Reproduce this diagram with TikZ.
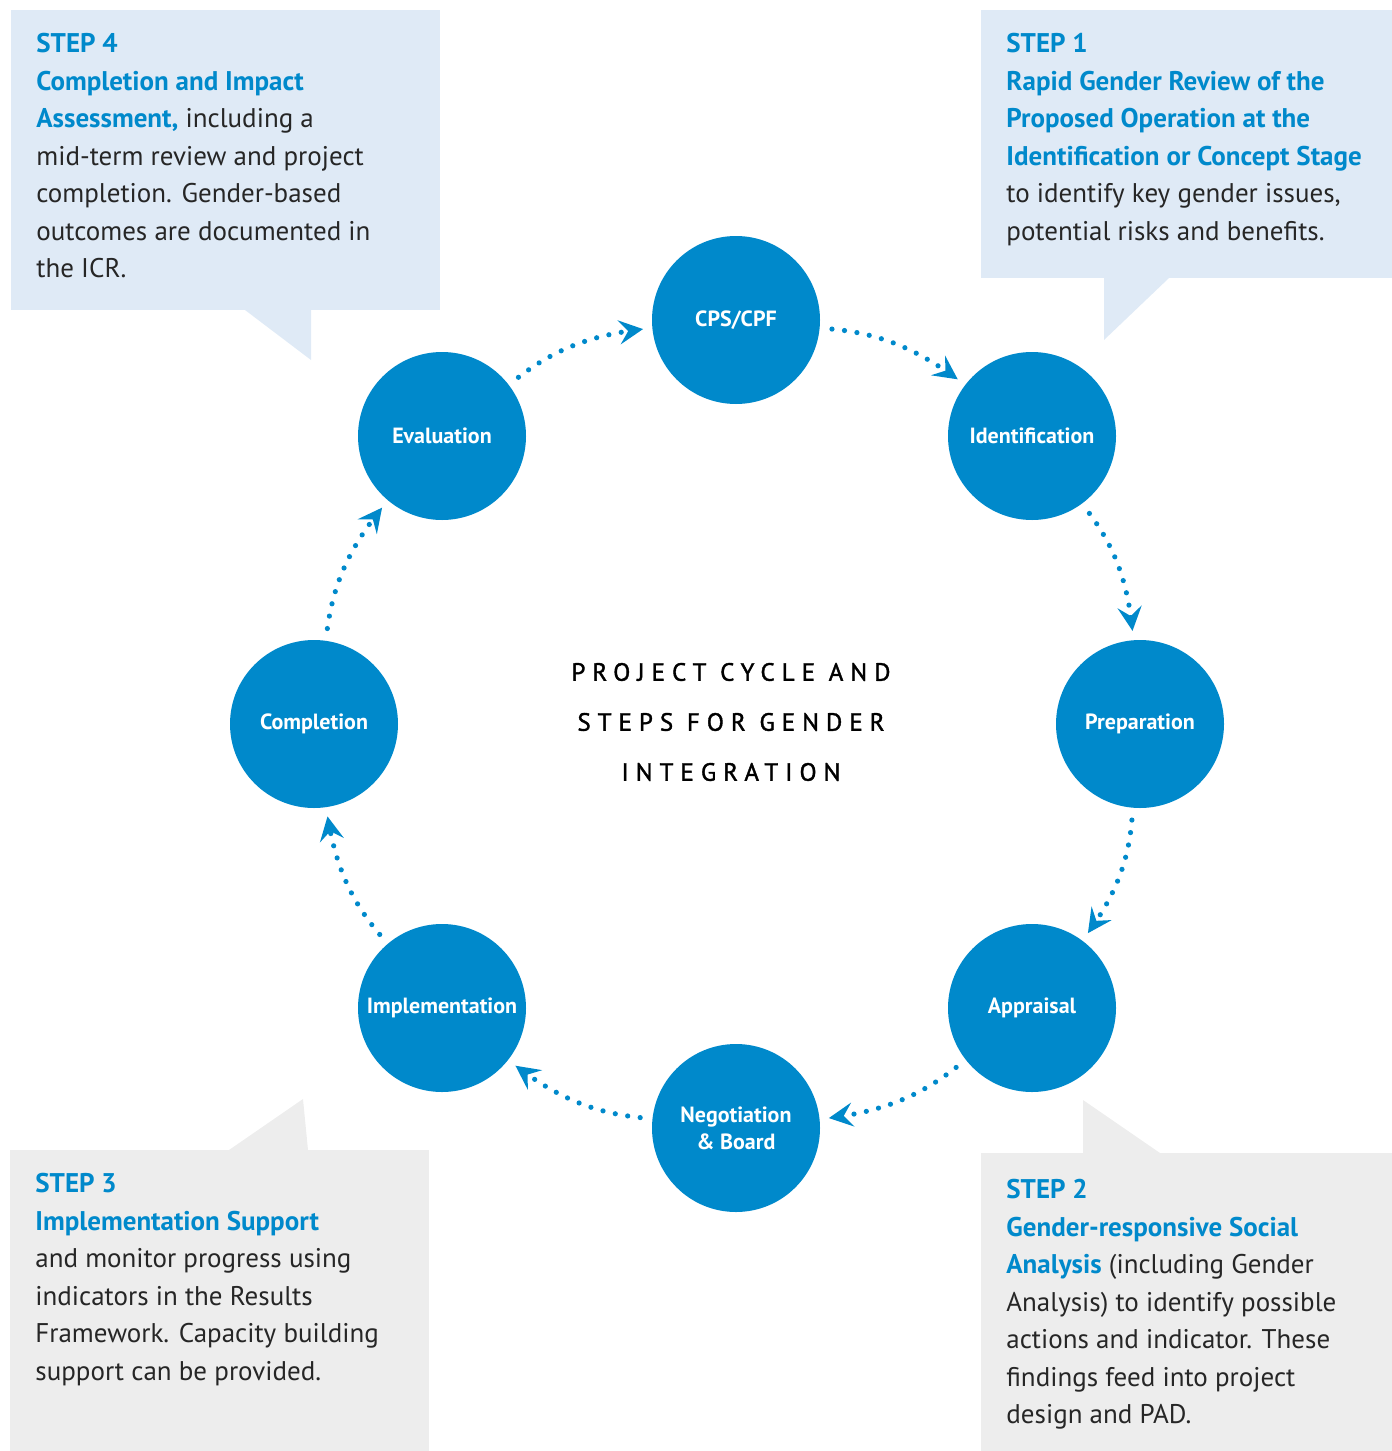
\documentclass[tikz,border=0pt]{standalone}
\usepackage{fontspec}
\setmainfont{PT Sans}
\newfontfamily\titlefont[LetterSpace=28,FakeBold=1.5]{PT Sans}
\usetikzlibrary{arrows.meta,bending}
\definecolor{wbblue}{RGB}{0,137,203}
\definecolor{boxblue}{RGB}{223,234,246}
\definecolor{boxgray}{RGB}{237,237,237}
\newcommand{\stephead}[1]{\textcolor{wbblue}{\bfseries #1}}
\begin{document}
\begin{tikzpicture}[x=0.5pt,y=-0.5pt,
		stage/.style={circle,fill=wbblue,minimum size=84pt,inner sep=0pt,
			text=white,align=center,font=\bfseries\fontsize{11}{13.5}\selectfont},
		flow/.style={wbblue,line width=2.6pt,line cap=round,
			dash pattern=on 0pt off 6.3pt,shorten <=6pt,shorten >=4.5pt,
			-{Stealth[length=12pt,width=12pt,inset=4.5pt,flex]}},
		steptext/.style={anchor=north west,inner sep=0pt,align=left,
			text=black!85,font=\fontsize{13.5}{18.75}\selectfont}]
		\useasboundingbox (0,0) rectangle (1392,1451);
		
		% callout boxes
		\fill[boxblue] (11,10) rectangle (440,310);
		\fill[boxblue] (245,310) -- (311,360) -- (311,310) -- cycle;
		\fill[boxblue] (981,10) rectangle (1392,278);
		\fill[boxblue] (1104,278) -- (1104,340) -- (1169,278) -- cycle;
		\fill[boxgray] (10,1150) rectangle (429,1451);
		\fill[boxgray] (229,1150) -- (303,1099) -- (308,1150) -- cycle;
		\fill[boxgray] (981,1153) rectangle (1392,1451);
		\fill[boxgray] (1083,1153) -- (1083,1100) -- (1160,1153) -- cycle;
		
		\node[steptext] (step4) at (36,33) {\stephead{STEP 4}\\
			\stephead{Completion and Impact}\\
			\stephead{Assessment,} including a\\
			mid-term review and project\\
			completion. Gender-based\\
			outcomes are documented in\\
			the ICR.};
		\node[steptext] (step1) at (1006,33) {\stephead{STEP 1}\\
			\stephead{Rapid Gender Review of the}\\
			\stephead{Proposed Operation at the}\\
			\stephead{Identification or Concept Stage}\\
			to identify key gender issues,\\
			potential risks and benefits.};
		\node[steptext] (step3) at (35,1173) {\stephead{STEP 3}\\
			\stephead{Implementation Support}\\
			and monitor progress using\\
			indicators in the Results\\
			Framework. Capacity building\\
			support can be provided.};
		\node[steptext] (step2) at (1006,1179) {\stephead{STEP 2}\\
			\stephead{Gender-responsive Social}\\
			\stephead{Analysis} (including Gender\\
			Analysis) to identify possible\\
			actions and indicator. These\\
			findings feed into project\\
			design and PAD.};
		
		% project cycle
		\node[stage] (cps) at (736,320) {CPS/CPF};
		\node[stage] (ident) at (1032,436) {Identification};
		\node[stage] (prep) at (1140,724) {Preparation};
		\node[stage] (appr) at (1032,1008) {Appraisal};
		\node[stage] (nego) at (736,1128) {Negotiation\\\& Board};
		\node[stage] (impl) at (442,1008) {Implementation};
		\node[stage] (compl) at (314,724) {Completion};
		\node[stage] (eval) at (442,436) {Evaluation};
		
		\foreach \from/\to in {cps/ident,ident/prep,prep/appr,appr/nego,
			nego/impl,impl/compl,compl/eval,eval/cps}
		\draw[flow] (\from) to[bend left=16] (\to);
		
		\node[align=center,font=\titlefont\fontsize{12.5}{25}\selectfont] (title) at (731,722)
		{PROJECT CYCLE AND\\STEPS FOR GENDER\\INTEGRATION};
\end{tikzpicture}
\end{document}
